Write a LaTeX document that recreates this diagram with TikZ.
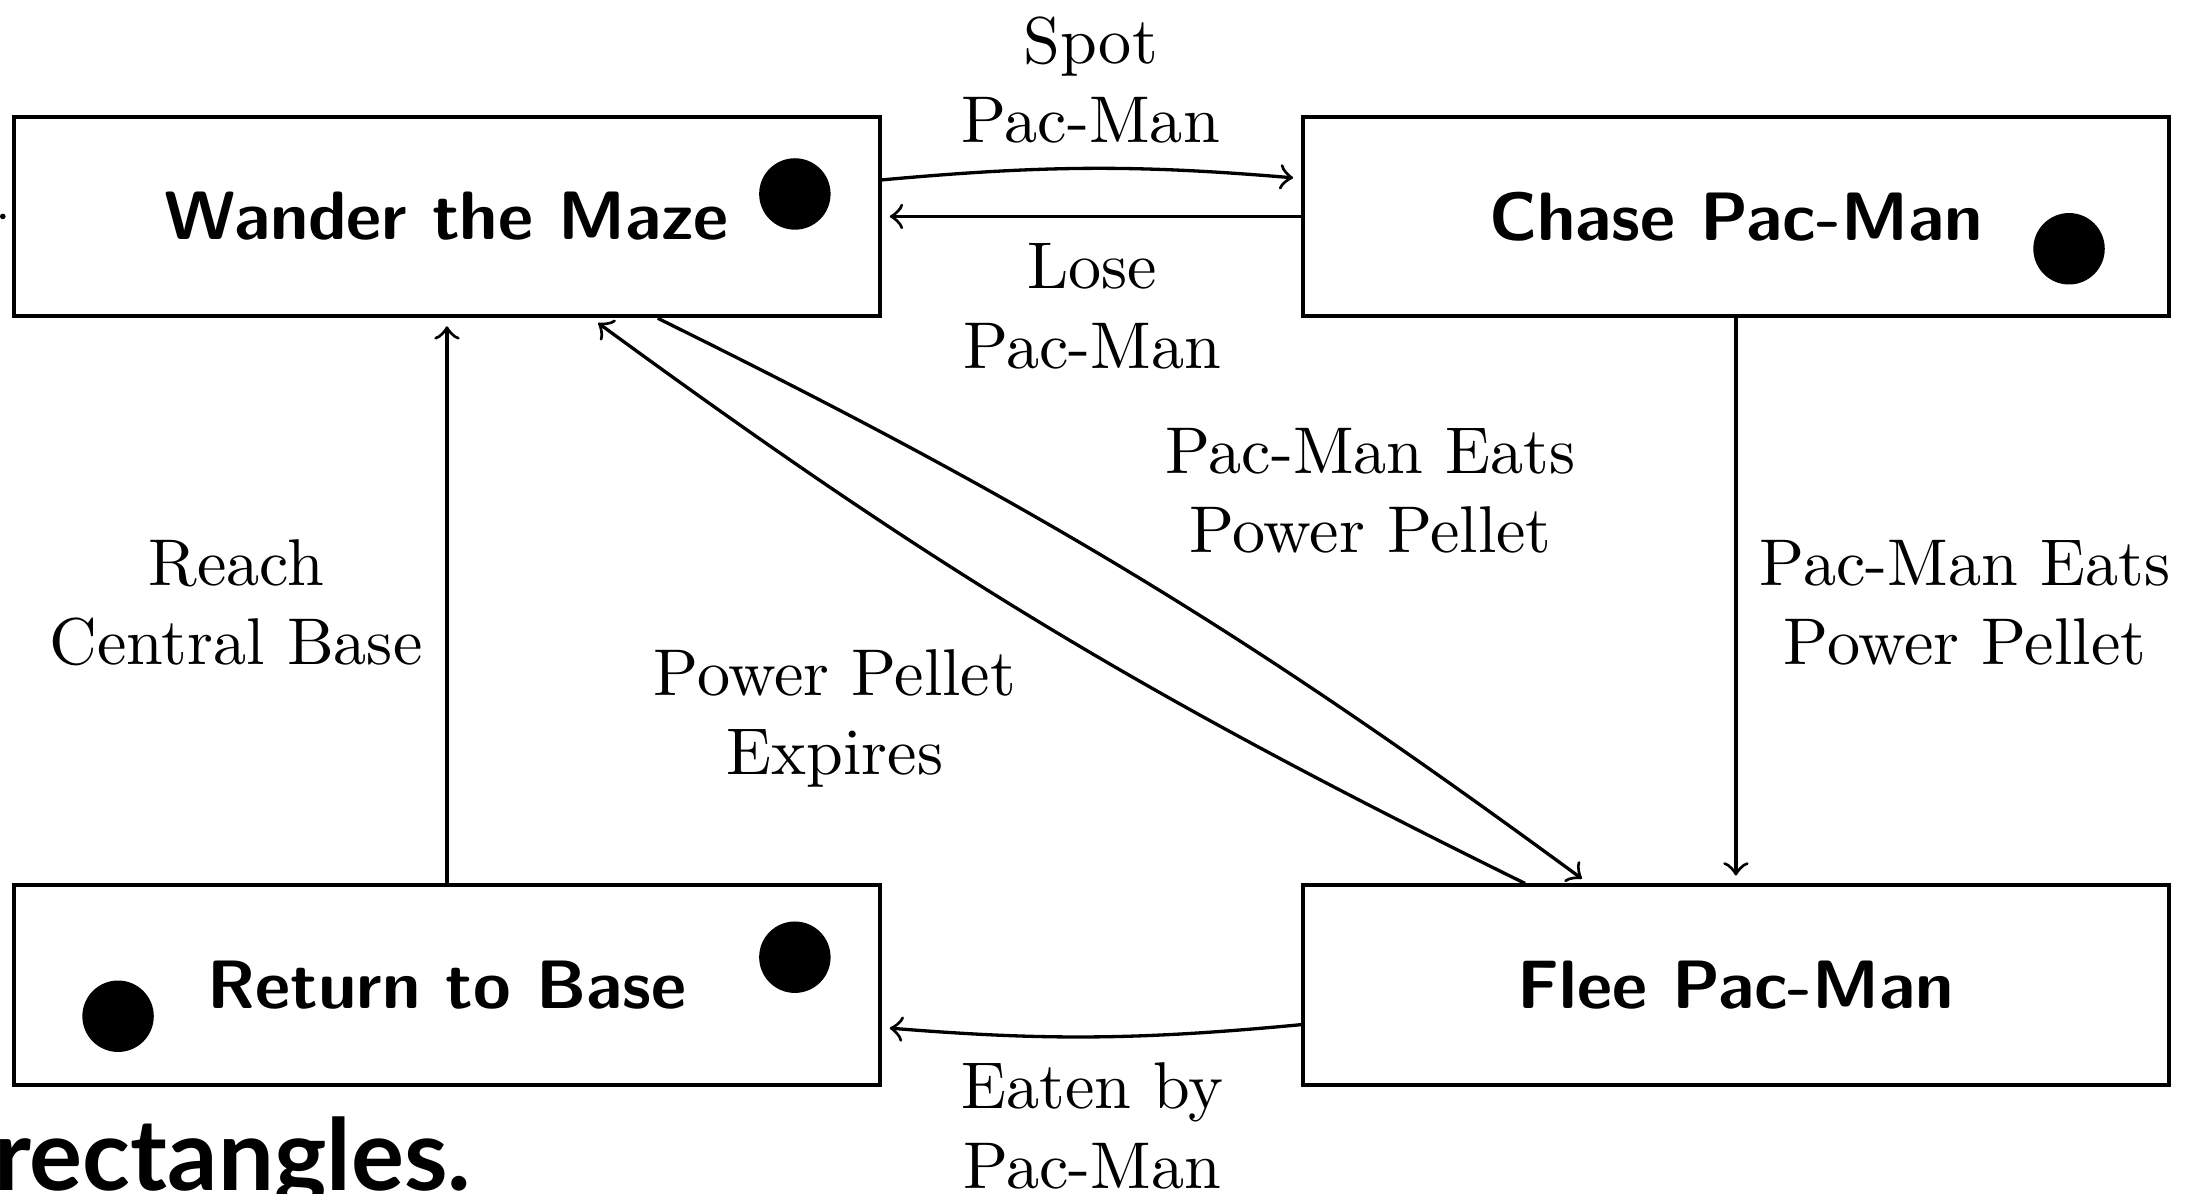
\documentclass[tikz,border=0pt]{standalone}
\usepackage{fontspec}
\newfontfamily\capfont{Lato}
\usetikzlibrary{calc}
\begin{document}
\begin{tikzpicture}[x=0.2125pt,y=-0.2125pt,
  state/.style={draw,line width=0.6pt,minimum width=130.9pt,minimum height=30.2pt,inner sep=0pt,font=\sffamily\bfseries\fontsize{10.35}{12.4}\selectfont},
  dot/.style={fill=black,circle,inner sep=0pt,minimum size=10.8pt},
  lbl/.style={align=center,inner sep=0pt},
  conn/.style={->,line width=0.5pt,shorten >=1.2pt}]
\useasboundingbox (0,0) rectangle (1568,849);
% states
\node[state] (w) at (318,154) {Wander the Maze};
\node[state] (c) at (1235,154) {Chase Pac-Man};
\node[state] (r) at (318,701) {Return to Base};
\node[state] (f) at (1235,701) {Flee Pac-Man};
% dots
\node[dot] (dw) at (565.5,138) {};
\node[dot] (dc) at (1472,177) {};
\node[dot] (dr1) at (565.5,681) {};
\node[dot] (dr2) at (84,723) {};
% fragments at the edges
\fill (2,154) circle (2);
\node[anchor=base west,inner sep=0pt,font=\capfont\bfseries\fontsize{15}{18}\selectfont] (frag) at (-5,847) {rectangles.};
% connectors
\draw[conn] ($(w.east)+(0,-26)$) to[bend left=5] ($(c.west)+(0,-27)$);
\draw[conn] (c.west) -- (w.east);
\draw[conn] (c.south) -- (f.north);
\draw[conn] ($(w.south)+(150,0)$) to[bend left=5] ($(f.north)+(-105,0)$);
\draw[conn] ($(f.north)+(-150,0)$) to[bend left=5] ($(w.south)+(103,0)$);
\draw[conn] ($(f.west)+(0,28)$) to[bend left=5] ($(r.east)+(0,30)$);
\draw[conn] (r.north) -- (w.south);
% labels
\node[lbl] (lspot) at (776,57) {Spot\\Pac-Man};
\node[lbl] (llose) at (777,218) {Lose\\Pac-Man};
\node[lbl] (leat1) at (975,349) {Pac-Man Eats\\Power Pellet};
\node[lbl] (leat2) at (1398,429) {Pac-Man Eats\\Power Pellet};
\node[lbl] (lreach) at (168,429) {Reach\\Central Base};
\node[lbl] (lexp) at (594,511) {Power Pellet\\Expires};
\node[lbl] (leaten) at (777,801) {Eaten by\\Pac-Man};
\end{tikzpicture}
\end{document}
